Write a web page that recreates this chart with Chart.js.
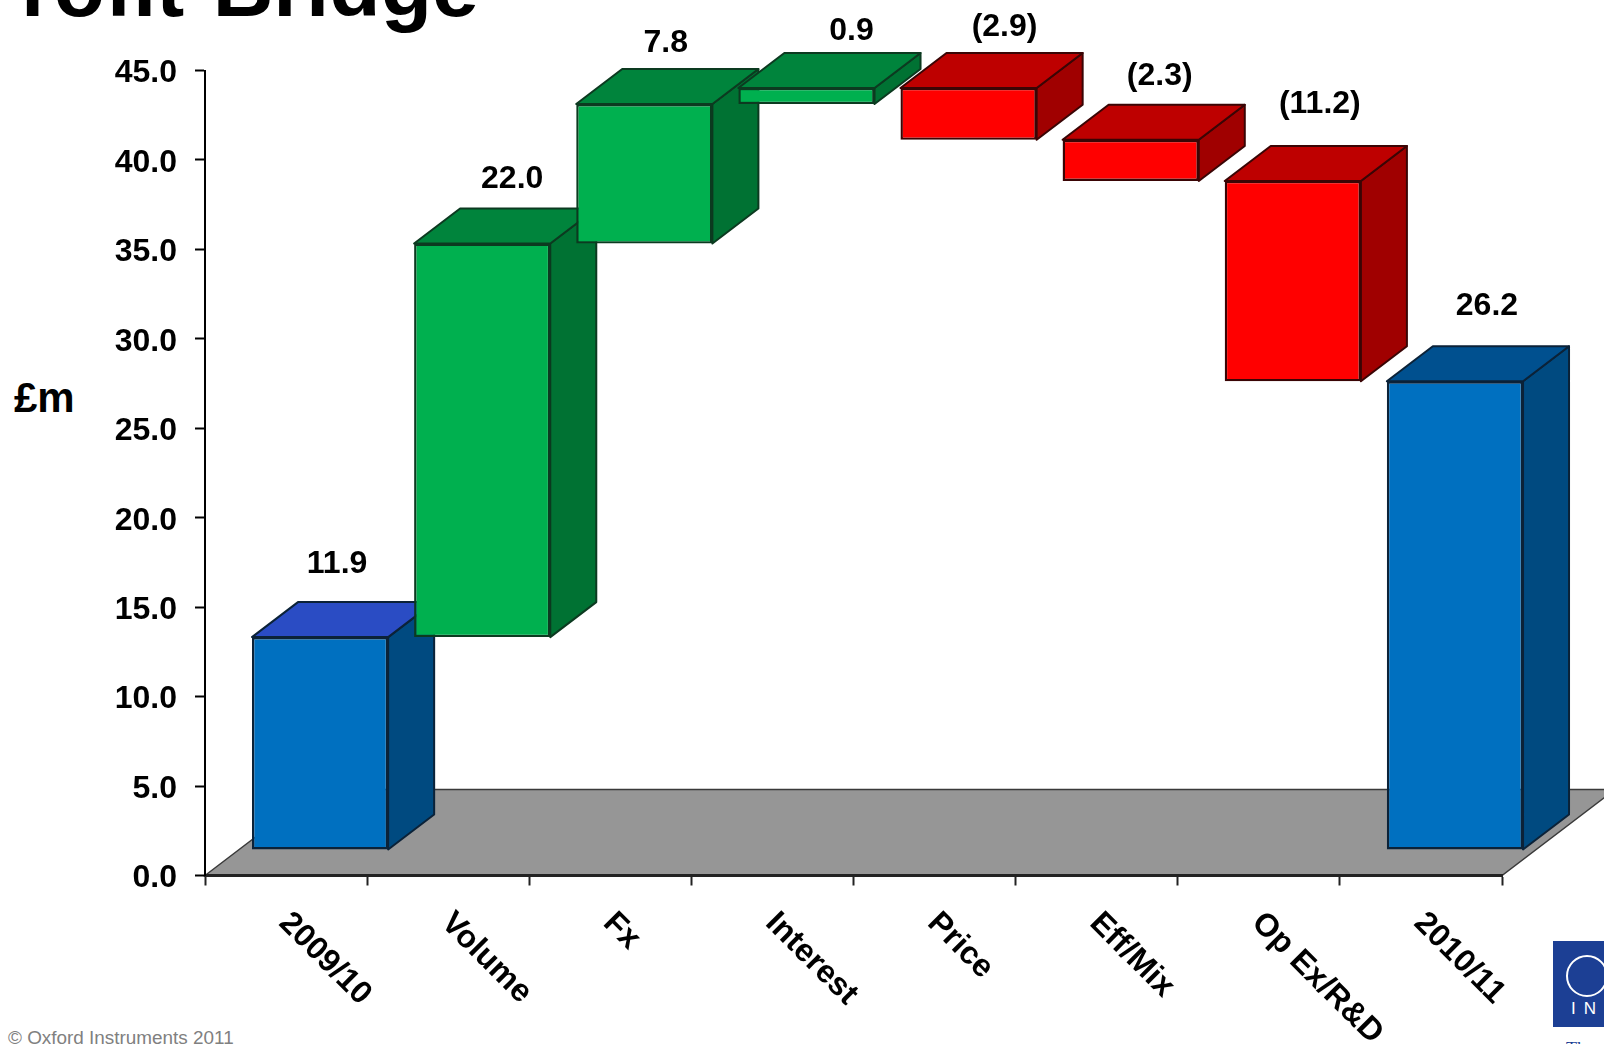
<!DOCTYPE html>
<html>
<head>
    <title>Profit Bridge</title>
    <script src="https://cdn.jsdelivr.net/npm/chart.js"></script>
    <style>
        html, body { margin: 0; padding: 0; width: 1604px; height: 1044px; overflow: hidden; background: #fff; }
        body { position: relative; font-family: "Liberation Sans", Arial, sans-serif; }
        canvas { position: absolute; left: 0; top: 0; display: block; }
        .slideText { position: absolute; line-height: 1; white-space: nowrap; }
        #title { left: -35px; top: -55px; font-size: 84px; font-weight: bold; color: #000; word-spacing: 5px; }
        #unit { left: 14px; top: 377px; font-size: 42px; font-weight: bold; color: #000; }
        #footer { left: 8px; top: 1029px; font-size: 18.9px; color: #808080; }
        #logo { position: absolute; left: 1553px; top: 941px; width: 60px; height: 86px; background: #1c3f94; overflow: hidden; }
        #logoRing { position: absolute; left: 13px; top: 14px; width: 38px; height: 38px; border: 2px solid #fff; border-radius: 50%; }
        #logoText { left: 18px; top: 59px; font-size: 17px; letter-spacing: 8px; color: #fff; }
        #strapline { left: 1566px; top: 1040px; font-family: "Liberation Serif", serif; font-size: 18px; color: #1c3f94; }
    </style>
</head>
<body>
<div id="title" class="slideText">Profit Bridge</div>
<div id="unit" class="slideText">£m</div>
<div id="footer" class="slideText">© Oxford Instruments 2011</div>
<div id="logo">
    <div id="logoRing"></div>
    <div id="logoText" class="slideText">IN</div>
</div>
<div id="strapline" class="slideText">The</div>
<canvas id="bridgeChart" width="1604" height="1044"></canvas>
<script>
    // Bridge steps in £m; the first and last bars are totals
    const categories = ['2009/10', 'Volume', 'Fx', 'Interest', 'Price', 'Eff/Mix', 'Op Ex/R&D', '2010/11'];
    const changes = [11.9, 22.0, 7.8, 0.9, -2.9, -2.3, -11.2, 26.2];
    const isTotal = [true, false, false, false, false, false, false, true];
    const axisMax = 45;
    const axisStep = 5;

    // Face colours
    const frontColors = ['#0070c0', '#00b04f', '#00b04f', '#00b04f', '#ff0000', '#ff0000', '#ff0000', '#0070c0'];
    const topColors = ['#2a4cc4', '#00843c', '#00843c', '#00843c', '#be0000', '#be0000', '#be0000', '#00508f'];
    const sideColors = ['#004a80', '#007233', '#007233', '#007233', '#a00000', '#a00000', '#a00000', '#004a80'];
    const edgeColors = ['#0b2238', '#0c3a20', '#0c3a20', '#0c3a20', '#3a0505', '#3a0505', '#3a0505', '#0b2238'];

    // Fake perspective: bars sit part way back on the floor
    const barShift = { x: 34, y: -25.5 };
    const barDepth = { x: 46, y: -35 };
    const floorDepth = { x: 113, y: -86 };
    const labelNudge = [[17, -72.5], [30, -64], [21.5, -61], [45, -56.5], [36, -61], [29, -63.5], [27, -77], [32, -75]];
    const categoryLabelAnchor = { x: -2, y: 918 };

    // Waterfall ranges from the running total
    let runningTotal = 0;
    const ranges = changes.map((change, i) => {
        if (isTotal[i]) {
            runningTotal = change;
            return [0, change];
        }
        const start = runningTotal;
        runningTotal = Math.round((runningTotal + change) * 10) / 10;
        return [start, runningTotal];
    });

    function formatChange(value) {
        return value < 0 ? '(' + Math.abs(value).toFixed(1) + ')' : value.toFixed(1);
    }

    function fillFace(ctx, points, fill, edge) {
        ctx.beginPath();
        points.forEach((p, i) => i ? ctx.lineTo(p[0], p[1]) : ctx.moveTo(p[0], p[1]));
        ctx.closePath();
        ctx.fillStyle = fill;
        ctx.fill();
        ctx.lineWidth = 2;
        ctx.strokeStyle = edge;
        ctx.lineJoin = 'round';
        ctx.stroke();
    }

    // Bar controller that adds the top and side faces behind each front face
    class Bar3DController extends Chart.BarController {
        draw() {
            const ctx = this.chart.ctx;
            ctx.save();
            ctx.translate(barShift.x, barShift.y);
            this.getMeta().data.forEach((bar, i) => {
                const left = bar.x - bar.width / 2;
                const right = bar.x + bar.width / 2;
                const upper = Math.min(bar.y, bar.base);
                const lower = Math.max(bar.y, bar.base);
                const dx = barDepth.x;
                const dy = barDepth.y;
                fillFace(ctx, [[right, upper], [right + dx, upper + dy], [right + dx, lower + dy], [right, lower]], sideColors[i], edgeColors[i]);
                fillFace(ctx, [[left, upper], [left + dx, upper + dy], [right + dx, upper + dy], [right, upper]], topColors[i], edgeColors[i]);
                bar.draw(ctx);
            });
            ctx.restore();
        }
    }
    Bar3DController.id = 'bar3d';
    Bar3DController.defaults = Chart.BarController.defaults;
    Chart.register(Bar3DController);

    // Grey floor behind the bars, drawn before the axes
    const floorPlugin = {
        id: 'floor',
        beforeDraw(chart) {
            const ctx = chart.ctx;
            const left = chart.scales.x.left;
            const right = chart.scales.x.right;
            const base = chart.scales.y.getPixelForValue(0);
            ctx.save();
            ctx.beginPath();
            ctx.moveTo(left, base);
            ctx.lineTo(left + floorDepth.x, base + floorDepth.y);
            ctx.lineTo(right + floorDepth.x, base + floorDepth.y);
            ctx.lineTo(right, base);
            ctx.closePath();
            ctx.fillStyle = '#969696';
            ctx.fill();
            ctx.lineWidth = 1.5;
            ctx.strokeStyle = '#3a3a3a';
            ctx.stroke();
            ctx.restore();
        }
    };

    // Value labels above each bar, category names slanting down to the right
    const labelPlugin = {
        id: 'bridgeLabels',
        afterDatasetsDraw(chart) {
            const ctx = chart.ctx;
            ctx.save();
            ctx.font = 'bold 32px "Liberation Sans"';
            ctx.fillStyle = '#000';
            ctx.textAlign = 'center';
            ctx.textBaseline = 'middle';
            chart.getDatasetMeta(0).data.forEach((bar, i) => {
                const upper = Math.min(bar.y, bar.base);
                ctx.fillText(formatChange(changes[i]),
                    bar.x + barShift.x + labelNudge[i][0],
                    upper + barShift.y + labelNudge[i][1]);
            });
            ctx.textAlign = 'left';
            categories.forEach((name, i) => {
                ctx.save();
                ctx.translate(chart.scales.x.getPixelForTick(i) + categoryLabelAnchor.x, categoryLabelAnchor.y);
                ctx.rotate(Math.PI / 4);
                ctx.fillText(name, 0, 0);
                ctx.restore();
            });
            ctx.restore();
        }
    };

    let ctx = document.getElementById('bridgeChart').getContext('2d');
    new Chart(ctx, {
        type: 'bar3d',
        data: {
            labels: categories,
            datasets: [{
                data: ranges,
                backgroundColor: frontColors,
                borderColor: edgeColors,
                borderWidth: 2.4,
                borderSkipped: false,
                barPercentage: 0.84,
                categoryPercentage: 1,
                clip: false
            }]
        },
        options: {
            responsive: false,
            animation: false,
            layout: { padding: { top: 70.5, right: 102, left: 0, bottom: 0 } },
            plugins: { legend: { display: false }, tooltip: { enabled: false } },
            scales: {
                x: {
                    type: 'category',
                    offset: true,
                    afterFit(scale) { scale.height = 168.5; },
                    grid: { offset: true, drawOnChartArea: false, tickLength: 10, tickColor: '#222', tickWidth: 2 },
                    border: { color: '#222', width: 3 },
                    ticks: { display: false }
                },
                y: {
                    type: 'linear',
                    min: 0,
                    max: axisMax,
                    afterFit(scale) { scale.width = 205; },
                    grid: { drawOnChartArea: false, tickLength: 10, tickColor: '#000', tickWidth: 2 },
                    border: { color: '#000', width: 2 },
                    ticks: {
                        stepSize: axisStep,
                        color: '#000',
                        padding: 18,
                        labelOffset: 3,
                        font: { family: 'Liberation Sans', size: 32, weight: 'bold' },
                        callback: value => value.toFixed(1)
                    }
                }
            }
        },
        plugins: [floorPlugin, labelPlugin]
    });
</script>
</body>
</html>
